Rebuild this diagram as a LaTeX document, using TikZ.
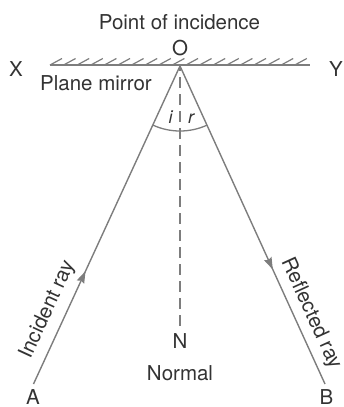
\documentclass[tikz,border=0pt]{standalone}
\usepackage{fontspec}
\setmainfont{TeX Gyre Heros}
\usetikzlibrary{decorations.markings,arrows.meta}
\definecolor{linegray}{HTML}{7D7D7D}
\definecolor{textgray}{HTML}{333333}
\tikzset{
  lbl/.style={text=textgray, inner sep=0pt, anchor=base, font=\fontsize{20.5}{24}\selectfont},
  anglbl/.style={text=textgray, inner sep=0pt, anchor=base, font=\fontsize{18}{22}\selectfont\itshape},
  mirrorline/.style={draw=linegray, line width=1.6pt},
  hatchline/.style={draw=linegray, line width=1.2pt},
  normalline/.style={draw=linegray, line width=1.5pt, dash pattern=on 10.5pt off 6.5pt, dash phase=6pt},
  rayline/.style={draw=linegray, line width=1.4pt},
  anglearc/.style={draw=linegray, line width=1.3pt},
  arrowat/.style={postaction={decorate}, decoration={markings,
      mark=at position #1 with {\arrow[linegray]{Stealth[length=12pt,width=8pt,inset=1.5pt]}}}}
}
\begin{document}
\begin{tikzpicture}[x=1pt,y=-1pt]
\useasboundingbox (0,0) rectangle (343,407);
% key points
\coordinate (O) at (180,66);
\coordinate (A) at (33.5,384);
\coordinate (B) at (325,384);
\coordinate (ML) at (50,65);
\coordinate (MR) at (310,65);
\coordinate (Nend) at (180,327);
\coordinate (Li) at (152.8,125.05);
\coordinate (Rr) at (206.9,125.2);
% mirror
\draw[mirrorline] (ML) -- (MR);
\foreach \k in {0,...,18}
  \draw[hatchline] ([xshift=\k*13.6pt]ML) -- ++(12,-6.5);
% normal
\draw[normalline] (O) -- (Nend);
% rays
\draw[rayline, arrowat=0.355] (A) -- node[lbl, pos=0.21, sloped, anchor=base, yshift=13pt] (inc) {Incident ray} (O);
\draw[rayline, arrowat=0.64] (O) -- node[lbl, pos=0.80, sloped, anchor=base, yshift=11pt] (refl) {Reflected ray} (B);
% angle arcs
\draw[anglearc] (Li) arc[start angle=114.7, end angle=90, radius=65];
\draw[anglearc] (Rr) arc[start angle=65.6, end angle=90, radius=65];
\node[anglbl] (ilbl) at (170.5,123.3) {i};
\node[anglbl] (rlbl) at (191,123.3) {r};
% labels
\node[lbl] (poi) at (179.5,29.5) {Point of incidence};
\node[lbl] (Olbl) at (180,55) {O};
\node[lbl] (Xlbl) at (16,76.5) {X};
\node[lbl] (Ylbl) at (336,76) {Y};
\node[lbl, anchor=base west] (pm) at (40,90) {Plane mirror};
\node[lbl] (Nlbl) at (180,348) {N};
\node[lbl] (norm) at (180,380) {Normal};
\node[lbl] (Albl) at (33,404.5) {A};
\node[lbl] (Blbl) at (326.5,404.5) {B};
\end{tikzpicture}
\end{document}
